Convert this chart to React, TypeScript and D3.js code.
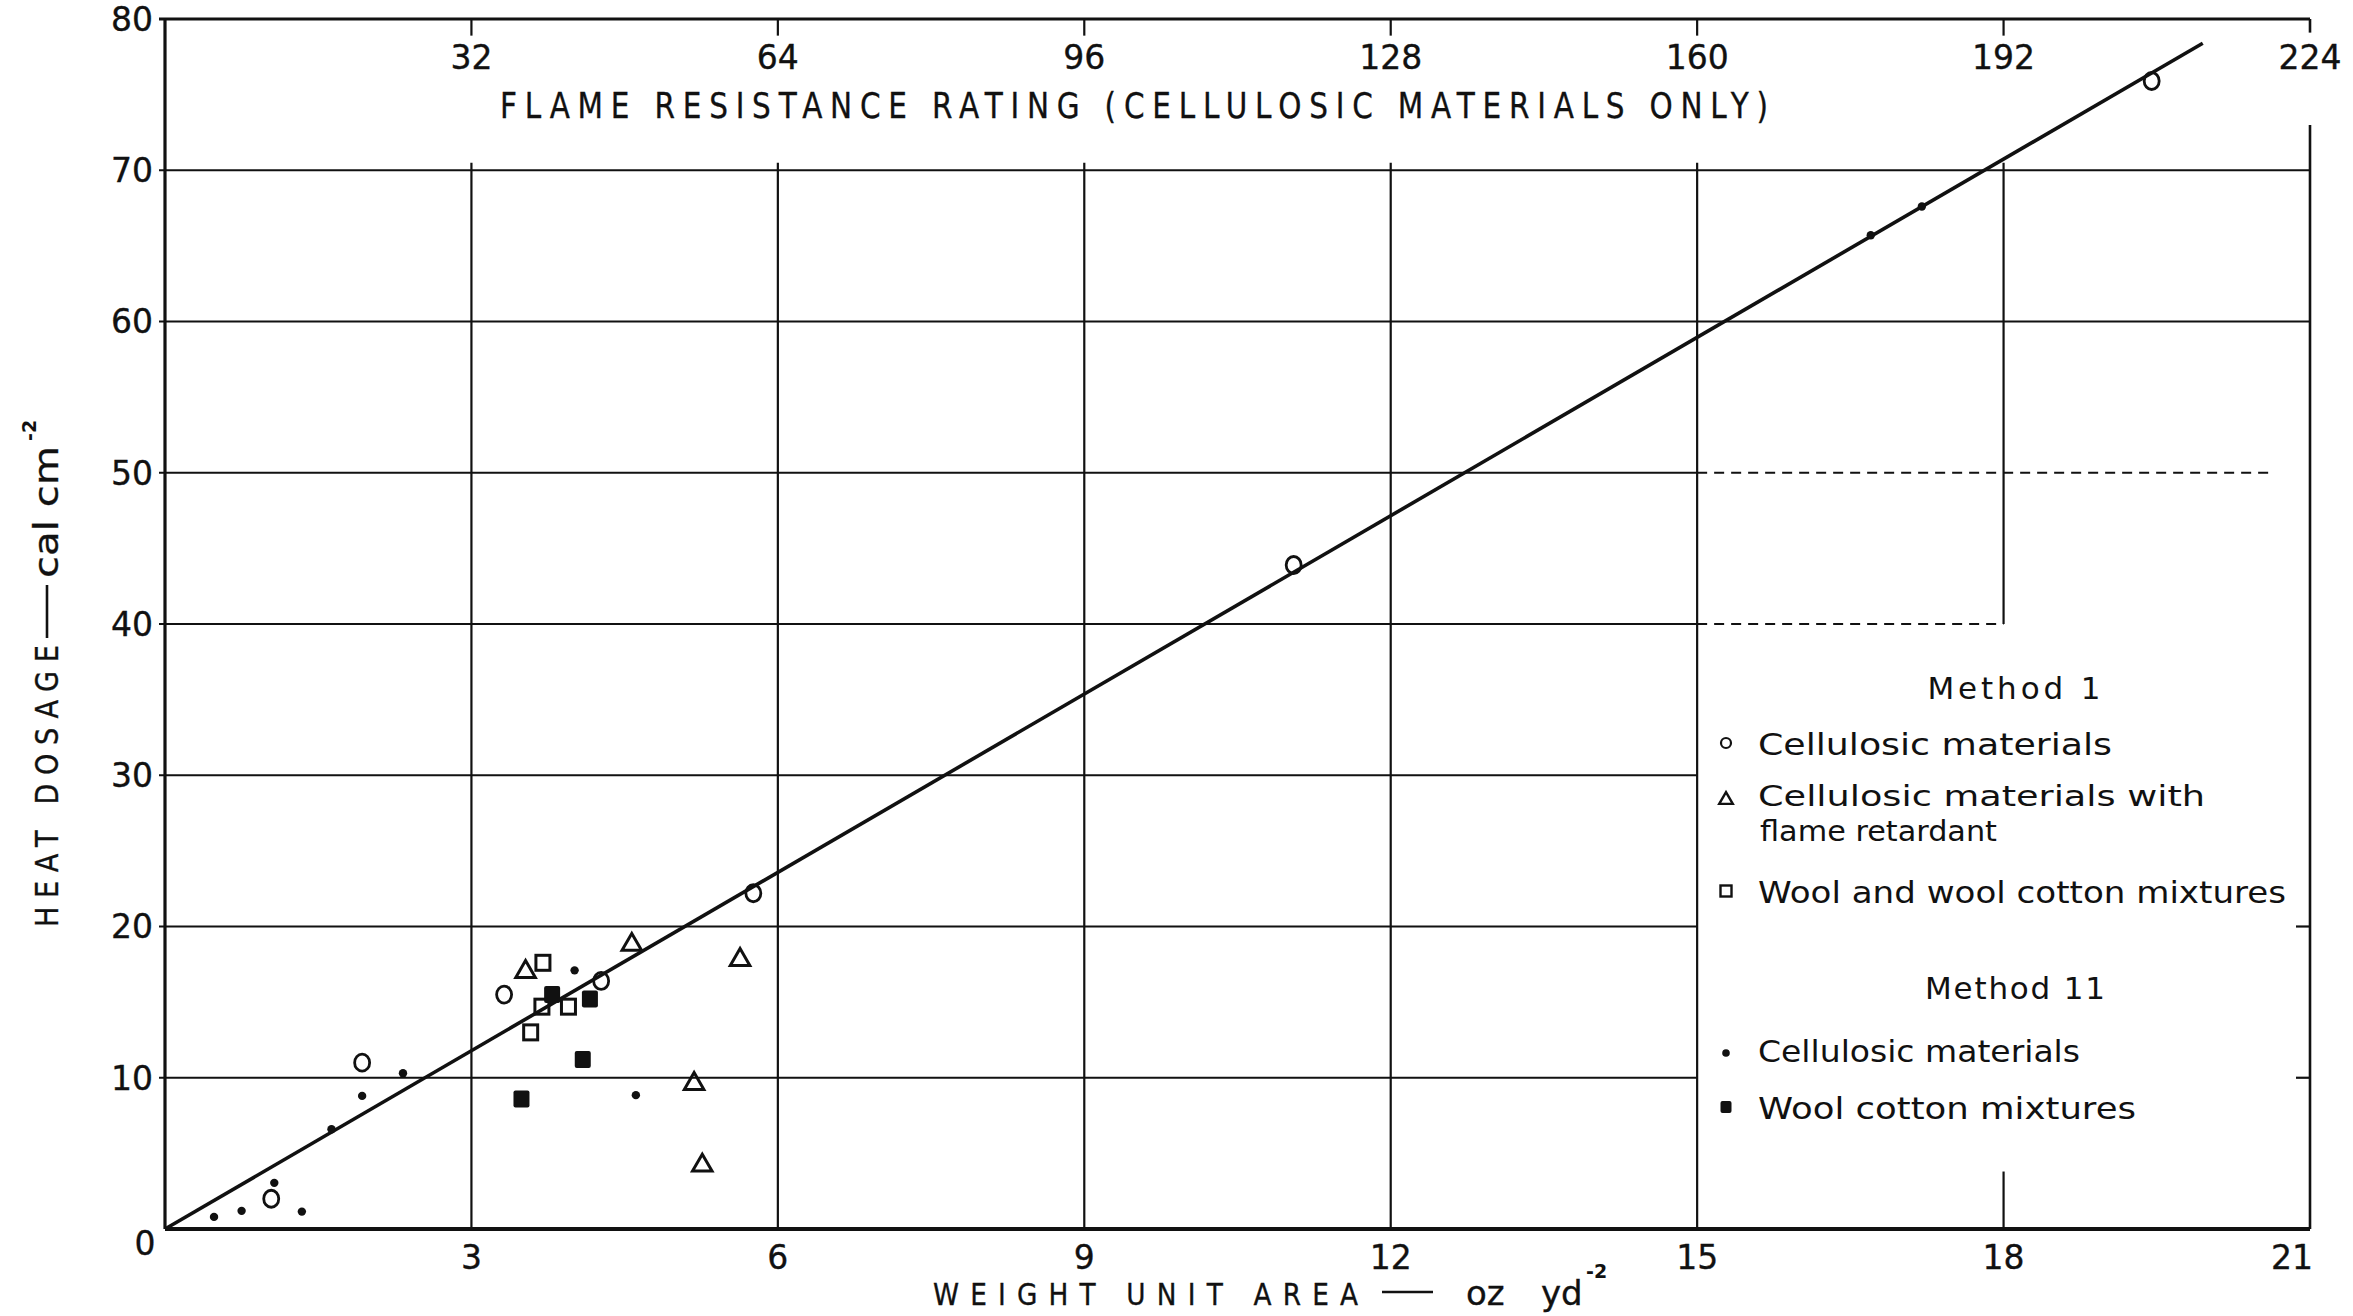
import React from "react";
import * as d3 from "d3";

// ---- data ----
const xTicks = [0, 3, 6, 9, 12, 15, 18, 21];
const yTicks = [0, 10, 20, 30, 40, 50, 60, 70, 80];
const topTicks = [32, 64, 96, 128, 160, 192, 224];

// Method 1 — cellulosic materials (open circles)
const m1CellX = [1.04, 1.93, 3.32, 4.27, 5.76, 11.05, 19.45];
const m1CellY = [2.0, 11.0, 15.5, 16.4, 22.2, 43.9, 75.9];
// Method 1 — cellulosic with flame retardant (open triangles)
const m1FrX = [3.53, 4.57, 5.63, 5.18, 5.26];
const m1FrY = [17.0, 18.8, 17.8, 9.6, 4.2];
// Method 1 — wool and wool cotton mixtures (open squares)
const m1WoolX = [3.7, 3.69, 3.95, 3.58];
const m1WoolY = [17.6, 14.7, 14.7, 13.0];
// Method II — cellulosic materials (small dots)
const m2CellX = [0.48, 0.75, 1.07, 1.34, 1.63, 1.93, 2.33, 4.01, 4.61, 16.7, 17.2];
const m2CellY = [0.8, 1.2, 3.05, 1.15, 6.6, 8.8, 10.3, 17.1, 8.85, 65.7, 67.6];
// Method II — wool cotton mixtures (filled squares)
const m2WoolX = [3.79, 4.16, 4.09, 3.49];
const m2WoolY = [15.5, 15.2, 11.2, 8.6];
// fitted line
const fitX = [0, 19.95];
const fitY = [0, 78.4];

const titleTop = "FLAME RESISTANCE RATING (CELLULOSIC MATERIALS ONLY)";
const xTitle = "WEIGHT UNIT AREA";
const xUnitA = "oz";
const xUnitB = "yd";
const yTitle = "HEAT DOSAGE";
const yUnit = "cal cm";
const legendHeads = ["Method 1", "Method 11"];
const legendLabels = [
  "Cellulosic materials",
  "Cellulosic materials with",
  "flame retardant",
  "Wool and wool cotton mixtures",
  "Cellulosic materials",
  "Wool cotton mixtures",
];

const INK = "#111";
const FONT = "'DejaVu Sans', 'Liberation Sans', sans-serif";

// condensed, letter-spaced text
function Spaced(props: { x: number; y: number; size: number; len: number; sx: number; text: string }) {
  const { x, y, size, len, sx, text } = props;
  return (
    <g transform={`translate(${x},${y}) scale(${sx},1)`}>
      <text x={0} y={0} fontSize={size} fill={INK} stroke={INK} strokeWidth={0.35} textLength={len / sx} lengthAdjust="spacing">
        {text}
      </text>
    </g>
  );
}

export default function App() {
  const x = d3.scaleLinear().domain([0, 21]).range([165, 2310]);
  const y = d3.scaleLinear().domain([0, 80]).range([1229, 19]);
  const xTop = d3.scaleLinear().domain([0, 224]).range(x.range());

  const fitLine = d3
    .line<number>()
    .x((_, i) => x(fitX[i]))
    .y((_, i) => y(fitY[i]))(fitX.map((_, i) => i)) as string;

  const tri = d3.symbol(d3.symbolTriangle, 165)() as string;
  const triLeg = d3.symbol(d3.symbolTriangle, 80)() as string;

  const gw = 2.2;
  const gridTop = 70.5;

  const hSeg: { v: number; a: number; b: number; dash?: boolean }[] = [];
  [10, 20, 30].forEach((v) => hSeg.push({ v, a: 0, b: 15 }));
  hSeg.push({ v: 40, a: 0, b: 15 }, { v: 40, a: 15, b: 18, dash: true });
  hSeg.push({ v: 50, a: 0, b: 15 }, { v: 50, a: 15, b: 20.6, dash: true });
  hSeg.push({ v: 60, a: 0, b: 21 }, { v: 70, a: 0, b: 21 });

  const vSeg: { v: number; a: number; b: number }[] = [];
  [3, 6, 9, 12, 15].forEach((v) => vSeg.push({ v, a: 0, b: gridTop }));
  vSeg.push({ v: 18, a: 40, b: gridTop }, { v: 18, a: 0, b: 3.8 });

  const lx = 1726;
  const tx = 1758;
  const ts = { stroke: INK, strokeWidth: 0.35 };

  return (
    <svg
      width={2353}
      height={1316}
      style={{ position: "absolute", left: 0, top: 0, background: "#fff" }}
      fontFamily={FONT}
    >
      <rect x={0} y={0} width={2353} height={1316} fill="#fff" />

      {hSeg.map((s, i) => (
        <line
          key={"h" + i}
          x1={x(s.a) - (s.a === 0 ? 6 : 0)}
          x2={x(s.b)}
          y1={y(s.v)}
          y2={y(s.v)}
          stroke={INK}
          strokeWidth={gw}
          strokeDasharray={s.dash ? "10 7" : undefined}
        />
      ))}
      {[10, 20].map((v) => (
        <line key={"st" + v} x1={x(21) - 14} x2={x(21)} y1={y(v)} y2={y(v)} stroke={INK} strokeWidth={gw} />
      ))}
      {vSeg.map((s, i) => (
        <line key={"v" + i} x1={x(s.v)} x2={x(s.v)} y1={y(s.a)} y2={y(s.b)} stroke={INK} strokeWidth={gw} />
      ))}
      {[3, 6, 9, 12, 15, 18].map((v) => (
        <line key={"tt" + v} x1={x(v)} x2={x(v)} y1={y(80)} y2={y(78.9)} stroke={INK} strokeWidth={gw} />
      ))}

      <line x1={x(0)} x2={x(0)} y1={y(0)} y2={y(80)} stroke={INK} strokeWidth={3.2} />
      <line x1={x(0) - 6} x2={x(21)} y1={y(80)} y2={y(80)} stroke={INK} strokeWidth={3} />
      <line x1={x(0)} x2={x(21)} y1={y(0)} y2={y(0)} stroke={INK} strokeWidth={4} />
      <line x1={x(21)} x2={x(21)} y1={y(80)} y2={y(79.1)} stroke={INK} strokeWidth={2.6} />
      <line x1={x(21)} x2={x(21)} y1={y(73)} y2={y(0)} stroke={INK} strokeWidth={2.6} />

      {yTicks
        .filter((v) => v !== 0)
        .map((v) => (
          <text key={"yl" + v} x={x(0) - 12} y={y(v)} dy="0.36em" textAnchor="end" fontSize={33} fill={INK} {...ts}>
            {v}
          </text>
        ))}
      {xTicks.map((v) => (
        <text
          key={"xl" + v}
          x={v === 0 ? x(0) - 20 : v === 21 ? x(21) - 18 : x(v)}
          y={y(0) + (v === 0 ? 14 : 28)}
          dy="0.36em"
          textAnchor="middle"
          fontSize={33}
          fill={INK}
          {...ts}
        >
          {v}
        </text>
      ))}
      {topTicks.map((v) => (
        <text key={"tl" + v} x={xTop(v)} y={y(80) + 38} dy="0.36em" textAnchor="middle" fontSize={33} fill={INK} {...ts}>
          {v}
        </text>
      ))}

      <Spaced x={500} y={118} size={36} len={1268} sx={0.82} text={titleTop} />

      <Spaced x={933} y={1305} size={31} len={425} sx={0.85} text={xTitle} />
      <line x1={1382} x2={1433} y1={1292} y2={1292} stroke={INK} strokeWidth={2.6} />
      <text x={1466} y={1305} fontSize={34} fill={INK} {...ts}>
        {xUnitA}
      </text>
      <text x={1541} y={1305} fontSize={34} fill={INK} {...ts}>
        {xUnitB}
      </text>
      <text x={1586} y={1278} fontSize={19} fontWeight="bold" fill={INK}>
        -2
      </text>

      <g transform="translate(58,927) rotate(-90)">
        <Spaced x={0} y={0} size={32} len={282} sx={0.85} text={yTitle} />
        <line x1={289} x2={342} y1={-11} y2={-11} stroke={INK} strokeWidth={2.6} />
        <text x={349} y={0} fontSize={33} fill={INK} textLength={132} lengthAdjust="spacingAndGlyphs" {...ts}>
          {yUnit}
        </text>
        <text x={486} y={-22} fontSize={19} fontWeight="bold" fill={INK}>
          -2
        </text>
      </g>

      <path d={fitLine} fill="none" stroke={INK} strokeWidth={3.6} />

      {m2CellX.map((v, i) => (
        <circle key={"m2c" + i} cx={x(v)} cy={y(m2CellY[i])} r={4.2} fill={INK} />
      ))}
      {m1CellX.map((v, i) => (
        <ellipse
          key={"m1c" + i}
          cx={x(v)}
          cy={y(m1CellY[i])}
          rx={7.5}
          ry={8.5}
          fill="none"
          stroke={INK}
          strokeWidth={2.8}
        />
      ))}
      {m1FrX.map((v, i) => (
        <path
          key={"m1f" + i}
          d={tri}
          transform={`translate(${x(v)},${y(m1FrY[i])})`}
          fill="none"
          stroke={INK}
          strokeWidth={3}
        />
      ))}
      {m1WoolX.map((v, i) => (
        <rect
          key={"m1w" + i}
          x={x(v) - 7}
          y={y(m1WoolY[i]) - 7.5}
          width={14}
          height={15}
          fill="none"
          stroke={INK}
          strokeWidth={3}
        />
      ))}
      {m2WoolX.map((v, i) => (
        <rect key={"m2w" + i} x={x(v) - 8} y={y(m2WoolY[i]) - 8.5} width={16} height={17} rx={2} fill={INK} />
      ))}

      <g fill={INK}>
        <text x={2014} y={699} fontSize={31} textAnchor="middle" textLength={173} lengthAdjust="spacing">
          {legendHeads[0]}
        </text>
        <circle cx={lx} cy={743} r={5} fill="none" stroke={INK} strokeWidth={2.2} />
        <text x={tx} y={755} fontSize={30} textLength={354} lengthAdjust="spacingAndGlyphs">
          {legendLabels[0]}
        </text>
        <path d={triLeg} transform={`translate(${lx},${800})`} fill="none" stroke={INK} strokeWidth={2.4} />
        <text x={tx} y={806} fontSize={28} textLength={447} lengthAdjust="spacingAndGlyphs">
          {legendLabels[1]}
        </text>
        <text x={tx + 2} y={841} fontSize={28} textLength={237} lengthAdjust="spacingAndGlyphs">
          {legendLabels[2]}
        </text>
        <rect x={lx - 5.5} y={891 - 5.5} width={11} height={11} fill="none" stroke={INK} strokeWidth={2.4} />
        <text x={tx} y={903} fontSize={30} textLength={528} lengthAdjust="spacingAndGlyphs">
          {legendLabels[3]}
        </text>
        <text x={2015} y={999} fontSize={31} textAnchor="middle" textLength={180} lengthAdjust="spacing">
          {legendHeads[1]}
        </text>
        <circle cx={lx} cy={1053} r={3.8} />
        <text x={tx} y={1062} fontSize={30} textLength={322} lengthAdjust="spacingAndGlyphs">
          {legendLabels[4]}
        </text>
        <rect x={lx - 5.5} y={1107 - 6} width={11} height={12} rx={2} />
        <text x={tx} y={1119} fontSize={30} textLength={378} lengthAdjust="spacingAndGlyphs">
          {legendLabels[5]}
        </text>
      </g>
    </svg>
  );
}
